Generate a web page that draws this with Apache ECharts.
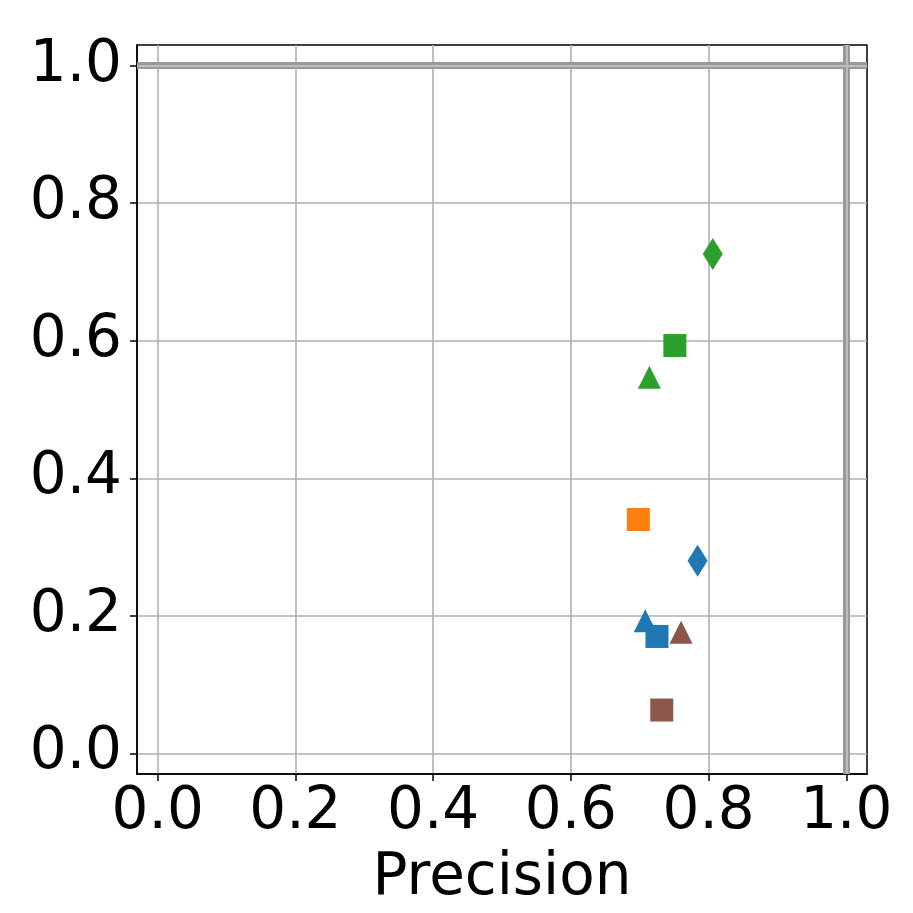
<!DOCTYPE html>
<html>
<head>
<meta charset="utf-8">
<script src="https://cdn.jsdelivr.net/npm/echarts@6/dist/echarts.min.js"></script>
<style>
html,body{margin:0;padding:0;background:#fff;}
#chart{width:913px;height:913px;}
</style>
</head>
<body>
<div id="chart"></div>
<script>
// Data (precision, recall-like y)
const blueTriangle = [[0.708, 0.193]];
const blueSquare = [[0.725, 0.170]];
const blueDiamond = [[0.784, 0.280]];
const orangeSquare = [[0.698, 0.340]];
const greenTriangle = [[0.714, 0.547]];
const greenSquare = [[0.751, 0.593]];
const greenDiamond = [[0.806, 0.726]];
const brownTriangle = [[0.760, 0.176]];
const brownSquare = [[0.732, 0.063]];
const xTicks = [0.0, 0.2, 0.4, 0.6, 0.8, 1.0];
const yTicks = [0.0, 0.2, 0.4, 0.6, 0.8, 1.0];
const refX = [1.0];
const refY = [1.0];
const xLabel = 'Precision';

const C = { blue: '#1f77b4', orange: '#ff7f0e', green: '#2ca02c', brown: '#8c564b' };
const FONT = 'DejaVu Sans';

function pts(data, color, symbol, size) {
  return {
    type: 'scatter', data: data, symbol: symbol, symbolSize: size,
    itemStyle: { color: color, opacity: 1 }, z: 3, silent: true
  };
}
const SQ = 23, TRI = [23, 23], DIA = [20, 32];

const refLineData = refX.map(v => ({ xAxis: v })).concat(refY.map(v => ({ yAxis: v })));

const chart = echarts.init(document.getElementById('chart'), null, { renderer: 'canvas' });
chart.setOption({
  animation: false,
  backgroundColor: '#fff',
  grid: { left: 137, top: 45, right: 46, bottom: 138, show: true, borderColor: '#000', borderWidth: 1.5, backgroundColor: 'transparent' },
  xAxis: {
    type: 'value', min: -0.03, max: 1.03,
    name: xLabel, nameLocation: 'middle', nameGap: 76,
    nameTextStyle: { fontFamily: FONT, fontSize: 58, color: '#000' },
    axisLine: { show: true, onZero: false, lineStyle: { color: '#000', width: 1.5 } },
    axisTick: { show: true, length: 7, customValues: xTicks, lineStyle: { color: '#000', width: 1.5 } },
    axisLabel: { customValues: xTicks, margin: 10, fontFamily: FONT, fontSize: 58, color: '#000', formatter: v => v.toFixed(1) },
    splitLine: { show: true, lineStyle: { color: '#b0b0b0', width: 1.6 } }
  },
  yAxis: {
    type: 'value', min: -0.03, max: 1.03,
    axisLine: { show: true, onZero: false, lineStyle: { color: '#000', width: 1.5 } },
    axisTick: { show: true, length: 7, customValues: yTicks, lineStyle: { color: '#000', width: 1.5 } },
    axisLabel: { customValues: yTicks, margin: 15, fontFamily: FONT, fontSize: 58, color: '#000', formatter: v => v.toFixed(1) },
    splitLine: { show: true, lineStyle: { color: '#b0b0b0', width: 1.6 } }
  },
  series: [
    {
      type: 'scatter', data: [], silent: true, z: 2,
      markLine: {
        silent: true, symbol: 'none', label: { show: false }, animation: false,
        lineStyle: { color: '#999999', width: 7, type: 'solid' },
        data: refLineData
      }
    },
    {
      type: 'scatter', data: [], silent: true, z: 2,
      markLine: {
        silent: true, symbol: 'none', label: { show: false }, animation: false,
        lineStyle: { color: '#bdbdbd', width: 2, type: 'solid' },
        data: refLineData
      }
    },
    pts(greenDiamond, C.green, 'diamond', DIA),
    pts(greenSquare, C.green, 'rect', SQ),
    pts(greenTriangle, C.green, 'triangle', TRI),
    pts(orangeSquare, C.orange, 'rect', SQ),
    pts(blueDiamond, C.blue, 'diamond', DIA),
    pts(blueTriangle, C.blue, 'triangle', TRI),
    pts(blueSquare, C.blue, 'rect', SQ),
    pts(brownTriangle, C.brown, 'triangle', TRI),
    pts(brownSquare, C.brown, 'rect', SQ)
  ]
});
</script>
</body>
</html>
